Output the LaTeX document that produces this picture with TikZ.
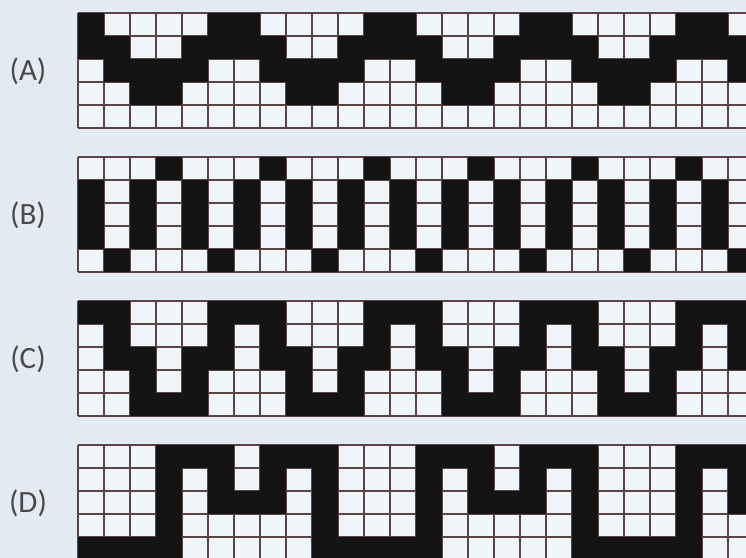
\documentclass[tikz,border=0pt]{standalone}
\usepackage{fontspec}
\setmainfont{Carlito}
\usepackage{tikz}

\definecolor{pagebg}{HTML}{E2EBF1}
\definecolor{cellwhite}{HTML}{F0F5FA}
\definecolor{cellblack}{HTML}{141414}
\definecolor{cellline}{HTML}{5A4446}
\definecolor{labelgray}{HTML}{4A4A4A}

\tikzset{
  blackcell/.style={fill=cellblack},
  whitecell/.style={fill=cellwhite},
  gridline/.style={draw=cellline, line width=0.6pt},
  bandlabel/.style={text=labelgray, font=\fontsize{15.5}{18}\selectfont}
}

% #1 bottom edge, #2 period, #3 rows from top (1 = black)
\newcommand{\weaveband}[3]{%
  \begin{scope}[shift={(78,#1)}, x=13pt, y=11.5pt]
    \fill[whitecell] (0,0) rectangle (26,5);
    \foreach \c in {0,...,26} \draw[gridline] (\c,0) -- (\c,5);
    \foreach \r in {0,...,5} \draw[gridline] (0,\r) -- (26,\r);
    \foreach \row [count=\r from 0] in {#3} {
      \foreach \c in {0,...,25} {
        \pgfmathtruncatemacro\m{mod(\c,#2)}
        \pgfmathtruncatemacro\v{{\row}[\m]}
        \ifnum\v=1 \fill[blackcell] (\c,4-\r) rectangle ++(1,1); \fi
      }
    }
  \end{scope}}

\begin{document}
\begin{tikzpicture}[x=0.5pt, y=0.5pt]
    % Page
    \fill[pagebg] (0,0) rectangle (746,558);
    \useasboundingbox (0,0) rectangle (746,558);
    \clip (0,0) rectangle (746,558);

    % Draw bands
    \weaveband{430}{6}{{1,0,0,0,0,1},{1,1,0,0,1,1},{0,1,1,1,1,0},{0,0,1,1,0,0},{0,0,0,0,0,0}}
    \weaveband{286}{4}{{0,0,0,1},{1,0,1,0},{1,0,1,0},{1,0,1,0},{0,1,0,0}}
    \weaveband{142}{6}{{1,1,0,0,0,1},{0,1,0,0,0,1},{0,1,1,0,1,1},{0,0,1,0,1,0},{0,0,1,1,1,0}}
    \weaveband{-2}{10}{{0,0,0,1,1,1,0,1,1,1},{0,0,0,1,0,1,0,1,0,1},{0,0,0,1,0,1,1,1,0,1},{0,0,0,1,0,0,0,0,0,1},{1,1,1,1,0,0,0,0,0,1}}

    % Labels
    \node[bandlabel] (labA) at (28,487) {(A)};
    \node[bandlabel] (labB) at (28,343) {(B)};
    \node[bandlabel] (labC) at (28,199) {(C)};
    \node[bandlabel] (labD) at (28,55) {(D)};
\end{tikzpicture}
\end{document}
